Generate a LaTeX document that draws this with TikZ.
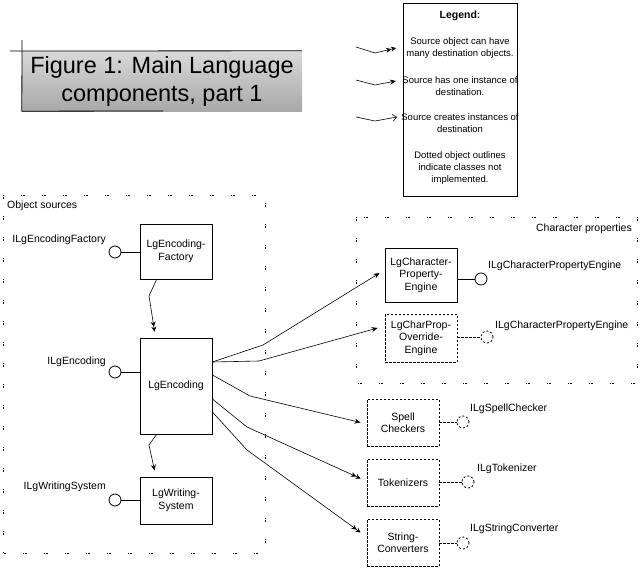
\documentclass[tikz,border=0pt]{standalone}
\usepackage{fontspec}
\setmainfont{Liberation Sans}
\usetikzlibrary{arrows.meta,calc}
\begin{document}
\begin{tikzpicture}[x=1pt,y=-1pt,
  lbl/.style={font=\fontsize{10.5}{12.5}\selectfont, inner sep=0pt},
  lgtxt/.style={font=\fontsize{9.5}{12}\selectfont, inner sep=0pt, align=center},
  objbox/.style={draw, line width=0.8pt, minimum width=72pt, align=center, inner sep=0pt, font=\fontsize{10.5}{12.5}\selectfont},
  notimpl/.style={objbox, dash pattern=on 2.5pt off 1.5pt},
  ball/.style={draw, circle, line width=0.8pt, minimum size=12pt, inner sep=0pt},
  dball/.style={ball, dash pattern=on 2pt off 2pt},
  link/.style={line width=0.8pt},
  dlink/.style={line width=0.8pt, dash pattern=on 2.5pt off 1.5pt},
  grp/.style={draw, line width=0.7pt, dash pattern=on 0.8pt off 0.8pt on 0.8pt off 0.8pt on 0.8pt off 17pt},
  edgeline/.style={line width=0.6pt},
  arrone/.style={edgeline, -{Stealth[length=6pt,width=5pt]}},
  arrmany/.style={edgeline, -{Stealth[length=5pt,width=5pt] Stealth[length=5pt,width=5pt]}},
  arrcreate/.style={edgeline, -{Straight Barb[length=4pt,width=7pt]}},
]
\useasboundingbox (0,0) rectangle (640,573);

% ---------- title ----------
\node[minimum width=280pt, minimum height=60pt, inner sep=0pt, top color=gray!30, bottom color=gray!68, align=center, font=\fontsize{23.5}{28}\selectfont] (title) at (162,81) {Figure 1: Main Language\\components, part 1};
\coordinate (tl) at (10,51);
\coordinate (tv) at (22,40);
\coordinate (tb) at (163,111);
\draw[link] (tl) -- (title.north east);
\draw[link] (tv) -- (title.south west) -- (tb);

% ---------- legend ----------
\node[draw, line width=0.8pt, minimum width=114pt, minimum height=193pt, inner sep=0pt] (legend) at (460,99.5) {};
\node[lgtxt, font=\bfseries\fontsize{10.5}{12}\selectfont] (lg0) at (460,16) {Legend:};
\node[lgtxt] (lg1) at (460,48) {Source object can have\\many destination objects.};
\node[lgtxt] (lg2) at (460,86) {Source has one instance of\\destination.};
\node[lgtxt] (lg3) at (460,123) {Source creates instances of\\destination};
\node[lgtxt] (lg4) at (460,168) {Dotted object outlines\\indicate classes not\\implemented.};

\coordinate (la1) at (356,47);  \coordinate (lk1) at (375,53);  \coordinate (lt1) at (396,48);
\coordinate (la2) at (356,80);  \coordinate (lk2) at (375,85);  \coordinate (lt2) at (396,81);
\coordinate (la3) at (356,117); \coordinate (lk3) at (375,121); \coordinate (lt3) at (397,117);
\draw[arrmany] (la1) -- (lk1) -- (lt1);
\draw[arrone] (la2) -- (lk2) -- (lt2);
\draw[arrcreate] (la3) -- (lk3) -- (lt3);

% ---------- groups ----------
\draw[grp] (3,195) rectangle (265,553);
\node[lbl, anchor=west] (osl) at (7,206) {Object sources};
\draw[grp] (356,217) rectangle (637,383);
\node[lbl, anchor=east] (cpl) at (632,229) {Character properties};

% ---------- object sources ----------
\node[objbox, minimum height=55pt] (fac) at (176,251.5) {LgEncoding-\\Factory};
\node[objbox, minimum height=96pt] (enc) at (176,386) {LgEncoding};
\node[objbox, minimum height=47pt] (ws) at (176,500.5) {LgWriting-\\System};

\node[ball] (bfac) at (115,252) {};
\node[ball] (benc) at (115,372) {};
\node[ball] (bws) at (115,500) {};
\draw[link] (bfac) -- (bfac -| fac.west);
\draw[link] (benc) -- (benc -| enc.west);
\draw[link] (bws) -- (bws -| ws.west);
\node[lbl, anchor=east] (lfac) at (106,240) {ILgEncodingFactory};
\node[lbl, anchor=east] (lenc) at (106,362) {ILgEncoding};
\node[lbl, anchor=east] (lws) at (106,487) {ILgWritingSystem};

\coordinate (k1) at (149,296);
\coordinate (k2) at (149,445);
\draw[arrmany] ([xshift=17pt]fac.south west) -- (k1) -- ([xshift=15pt,yshift=6pt]enc.north west);
\draw[arrone] ([xshift=17pt]enc.south west) -- (k2) -- ([xshift=15pt,yshift=6pt]ws.north west);

% ---------- right side ----------
\node[objbox, minimum height=54pt] (cpe) at (421,275) {LgCharacter-\\Property-\\Engine};
\node[notimpl, minimum height=48pt] (ovr) at (421,338) {LgCharProp-\\Override-\\Engine};
\node[notimpl, minimum height=47pt] (spell) at (403,422.5) {Spell\\Checkers};
\node[notimpl, minimum height=47pt] (tok) at (403,482.5) {Tokenizers};
\node[notimpl, minimum height=47pt] (str) at (403,542.5) {String-\\Converters};

\node[ball] (bcpe) at (481,279) {};
\node[dball] (bovr) at (487,337) {};
\node[dball] (bspell) at (463,422) {};
\node[dball] (btok) at (468,482) {};
\node[dball] (bstr) at (463,543) {};
\draw[link] (cpe.east |- bcpe) -- (bcpe);
\draw[dlink] (ovr.east |- bovr) -- (bovr);
\draw[dlink] (spell.east |- bspell) -- (bspell);
\draw[dlink] (tok.east |- btok) -- (btok);
\draw[dlink] (str.east |- bstr) -- (bstr);

\node[lbl, anchor=west] (lcpe) at (488,266) {ILgCharacterPropertyEngine};
\node[lbl, anchor=west] (lovr) at (495,326) {ILgCharacterPropertyEngine};
\node[lbl, anchor=west] (lspell) at (470,409) {ILgSpellChecker};
\node[lbl, anchor=west] (ltok) at (477,469) {ILgTokenizer};
\node[lbl, anchor=west] (lstr) at (470,529) {ILgStringConverter};

% ---------- edges from LgEncoding ----------
\coordinate (s1) at (enc.east |- 0,362);
\coordinate (s3) at (enc.east |- 0,375);
\coordinate (s4) at (enc.east |- 0,399);
\coordinate (s5) at (enc.east |- 0,412);
\coordinate (m1) at (263,345);
\coordinate (m2) at (259,361);
\coordinate (m3) at (250,396);
\coordinate (m4) at (247,427);
\coordinate (m5) at (247,450);
\draw[arrone] (s1) -- (m1) -- ([xshift=-5pt,yshift=2pt]cpe.west);
\draw[arrone] (s1) -- (m2) -- ([xshift=-7pt,yshift=10pt]ovr.west);
\draw[arrone] (s3) -- (m3) -- ([xshift=-6pt]spell.west);
\draw[arrmany] (s4) -- (m4) -- ([xshift=-6pt,yshift=4pt]tok.west);
\draw[arrmany] (s5) -- (m5) -- ([xshift=-6pt,yshift=10pt]str.west);
\end{tikzpicture}
\end{document}
